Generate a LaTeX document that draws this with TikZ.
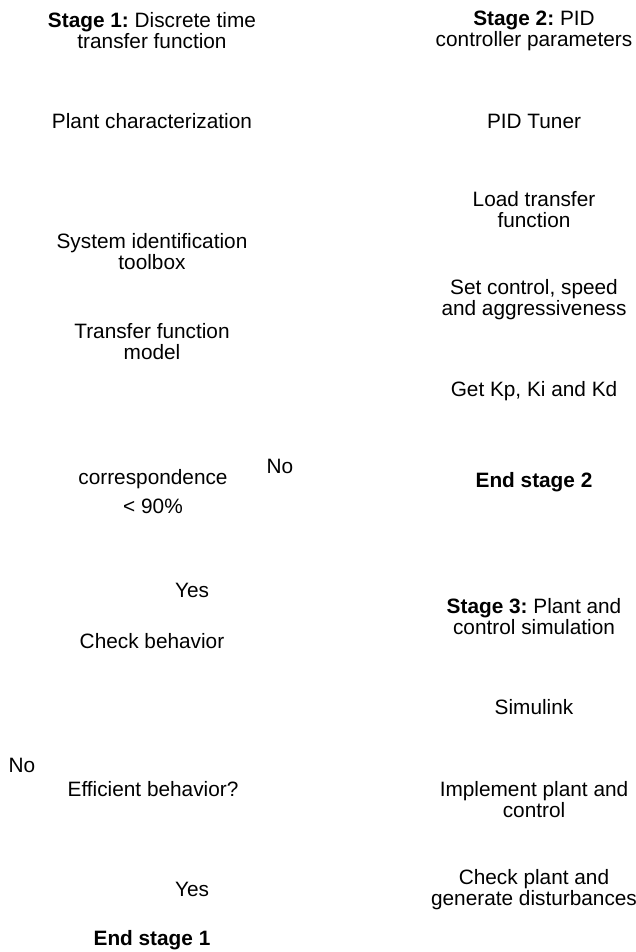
\documentclass[tikz,border=0pt]{standalone}
\usepackage{fontspec}
\setmainfont{Liberation Sans}
\frenchspacing
\usetikzlibrary{positioning}

\begin{document}
\begin{tikzpicture}[x=1pt,y=-1pt,
  txt/.style={align=center,inner sep=0pt,font=\fontsize{20.8}{21}\selectfont},
  lbl/.style={inner sep=0pt,font=\fontsize{20.8}{21}\selectfont}]
  \useasboundingbox (0,0) rectangle (636,952);
  % Stage 1: discrete time transfer function (left column)
  \node[txt] (stageone) at (152,31) {\textbf{Stage 1:} Discrete time\\transfer function};
  \node[txt] (plant) at (152,121) {Plant characterization};
  \node[txt] (sysid) at (152,252) {System identification\\toolbox};
  \node[txt] (tfmodel) at (152,342) {Transfer function\\model};
  \node[txt] (corresp) at (153,492) {correspondence\\[8pt]< 90\%};
  \node[lbl] (nocorr) at (280,466) {No};
  \node[lbl] (yescorr) at (192,590) {Yes};
  \node[txt] (checkbeh) at (152,641) {Check behavior};
  \node[lbl] (noeff) at (22,765) {No};
  \node[txt] (efficient) at (153,789) {Efficient behavior?};
  \node[lbl] (yeseff) at (192,889) {Yes};
  \node[txt] (endone) at (152,940) {\textbf{End stage 1}};
  % Stage 2: PID controller parameters (right column)
  \node[txt] (stagetwo) at (534,31) {\textbf{Stage 2:} PID\\controller parameters};
  \node[txt] (tuner) at (534,121) {PID Tuner};
  \node[txt] (loadtf) at (534,210) {Load transfer\\function};
  \node[txt] (setctl) at (534,300) {Set control, speed\\and aggressiveness};
  \node[txt] (gains) at (534,391) {Get Kp, Ki and Kd};
  \node[txt] (endtwo) at (534,482) {\textbf{End stage 2}};
  % Stage 3: plant and control simulation
  \node[txt] (stagethree) at (534,617) {\textbf{Stage 3:} Plant and\\control simulation};
  \node[txt] (simulink) at (534,707) {Simulink};
  \node[txt] (implement) at (534,800) {Implement plant and\\control};
  \node[txt] (disturb) at (534,890) {Check plant and\\generate disturbances};
\end{tikzpicture}
\end{document}
